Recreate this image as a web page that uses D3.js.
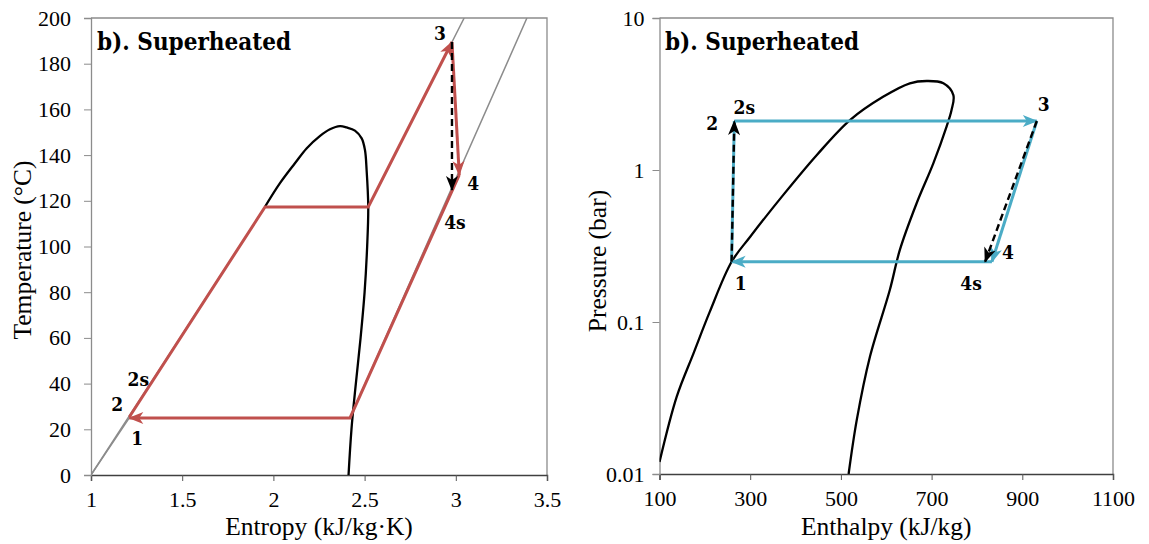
<!DOCTYPE html>
<html>
<head>
<meta charset="utf-8">
<script src="https://cdn.jsdelivr.net/npm/d3@7"></script>
<style>
  html, body { margin: 0; padding: 0; background: #fff; }
  svg { display: block; }
  .tick text { font-family: "Liberation Serif", "Times New Roman", serif; font-size: 22px; fill: #000; }
  .axis-title { font-family: "Liberation Serif", "Times New Roman", serif; font-size: 25.5px; fill: #000; }
  .panel-title { font-family: "DejaVu Serif", serif; font-stretch: condensed; font-weight: bold; font-size: 25px; fill: #000; }
  .pt-label { font-family: "DejaVu Serif", serif; font-stretch: condensed; font-weight: bold; font-size: 19px; fill: #000; }
</style>
</head>
<body>
<svg id="chart" width="1149" height="544"></svg>
<script>
// ---------- T-s diagram data (entropy kJ/kg·K, temperature °C) ----------
const tsDome = [
  [1.954, 117.4], [2.036, 127.7], [2.118, 136.4], [2.183, 143.0], [2.256, 148.4],
  [2.310, 151.3], [2.365, 152.7], [2.402, 152.1], [2.447, 150.7], [2.484, 147.3],
  [2.502, 142.2], [2.511, 133.5], [2.520, 117.4], [2.514, 100.0], [2.500, 80.0],
  [2.478, 60.0], [2.452, 40.0], [2.428, 20.0], [2.412, 0]
];
const tsHighIsobar = [[1.0, 0], [1.954, 117.3], [2.520, 117.3], [3.046, 200]];
const tsLowIsobar  = [[1.0, 0], [1.21, 25], [2.42, 25], [3.39, 200]];
// cycle states
const tsState = {
  s1: [1.21, 25], s2: [1.21, 25.4], satL: [1.954, 117.3], satV: [2.520, 117.3],
  s3: [2.979, 189.5], s4: [3.019, 131.3], s4s: [2.979, 124.7], lowSatV: [2.42, 25]
};
const tsXTicks = [1, 1.5, 2, 2.5, 3, 3.5];
const tsYTicks = [0, 20, 40, 60, 80, 100, 120, 140, 160, 180, 200];

// ---------- P-h diagram data (enthalpy kJ/kg, pressure bar) ----------
const phDome = [
  [100, 0.0120], [138, 0.0323], [175, 0.0622], [211, 0.117], [259, 0.249],
  [300, 0.364], [373, 0.686], [447, 1.256], [520, 2.13], [593, 3.03],
  [652, 3.72], [689, 3.85], [726, 3.72], [748, 3.11], [744, 2.48], [733, 1.93],
  [704, 1.11], [667, 0.604], [630, 0.298], [608, 0.163], [564, 0.0591],
  [535, 0.0227], [517, 0.0100]
];
const phState = {
  p1: [259, 0.249], p2: [265, 2.10], p2s: [265, 2.10], p3: [932, 2.10],
  p4: [833, 0.249], p4s: [818, 0.249]
};
const phXTicks = [100, 300, 500, 700, 900, 1100];
const phYTicks = [0.01, 0.1, 1, 10];

const svg = d3.select("#chart");
const RED = "#C0504D", BLUE = "#4BACC6", GREY = "#8c8c8c";

// arrowhead markers
const defs = svg.append("defs");
function marker(id, color) {
  defs.append("marker")
    .attr("id", id).attr("markerUnits", "userSpaceOnUse")
    .attr("viewBox", "-15 -7 17 14").attr("refX", 0).attr("refY", 0)
    .attr("markerWidth", 17).attr("markerHeight", 14).attr("orient", "auto")
    .append("path").attr("d", "M1,0 L-14,-6 L-10,0 L-14,6 Z").attr("fill", color);
}
marker("arR", RED); marker("arB", BLUE); marker("arK", "#000");

function panel(opts) {
  const { x, y, xTicks, yTicks, xFmt, yFmt, xTitle, yTitle, yTitleX, yTitleY, yPad } = opts;
  const g = svg.append("g");
  const [x0, x1] = x.range(), [y0, y1] = y.range();
  // frame (top/right)
  g.append("path").attr("d", `M${x0},${y1} H${x1} V${y0}`)
    .attr("fill", "none").attr("stroke", GREY).attr("stroke-width", 1.3);
  const ax = g.append("g").attr("transform", `translate(0,${y0})`)
    .call(d3.axisBottom(x).tickValues(xTicks).tickFormat(xFmt).tickSize(6).tickPadding(10));
  ax.select(".domain").attr("stroke", "#404040").attr("stroke-width", 1.5);
  ax.selectAll(".tick line").attr("stroke", "#555");
  const ay = g.append("g").attr("transform", `translate(${x0},0)`)
    .call(d3.axisLeft(y).tickValues(yTicks).tickFormat(yFmt).tickSize(7).tickPadding(yPad));
  ay.select(".domain").attr("stroke", GREY).attr("stroke-width", 1.3);
  ay.selectAll(".tick line").attr("stroke", GREY);
  g.append("text").attr("class", "axis-title")
    .attr("x", (x0 + x1) / 2).attr("y", 535).attr("text-anchor", "middle").text(xTitle);
  g.append("text").attr("class", "axis-title")
    .attr("transform", `translate(${yTitleX},${yTitleY}) rotate(-90)`)
    .attr("text-anchor", "middle").text(yTitle);
  return g;
}

// ================= T-s panel =================
const xL = d3.scaleLinear([1, 3.5], [91, 547]);
const yL = d3.scaleLinear([0, 200], [475, 18]);
const gL = panel({ x: xL, y: yL, xTicks: tsXTicks, yTicks: tsYTicks,
  xFmt: d3.format("~g"), yFmt: d3.format("d"),
  xTitle: "Entropy (kJ/kg·K)", yTitle: "Temperature (°C)", yTitleX: 31, yTitleY: 250, yPad: 13 });
const lineL = d3.line().x(d => xL(d[0])).y(d => yL(d[1]));
svg.append("clipPath").attr("id", "clipL")
  .append("rect").attr("x", 91).attr("y", 18).attr("width", 456).attr("height", 457);
const plotL = gL.append("g").attr("clip-path", "url(#clipL)");

plotL.append("path").datum(tsHighIsobar).attr("d", lineL)
  .attr("fill", "none").attr("stroke", GREY).attr("stroke-width", 1.5);
plotL.append("path").datum(tsLowIsobar).attr("d", lineL)
  .attr("fill", "none").attr("stroke", GREY).attr("stroke-width", 1.5);
plotL.append("path").datum(tsDome)
  .attr("d", d3.line().x(d => xL(d[0])).y(d => yL(d[1])).curve(d3.curveCatmullRom.alpha(0.5)))
  .attr("fill", "none").attr("stroke", "#000").attr("stroke-width", 2.3);

const S = tsState;
const redPaths = [
  [S.s2, S.satL, S.satV, S.s3],
  [S.s3, S.s4],
  [S.s4, S.lowSatV, S.s1]
];
redPaths.forEach(p => {
  gL.append("path").datum(p).attr("d", lineL)
    .attr("fill", "none").attr("stroke", RED).attr("stroke-width", 3)
    .attr("stroke-linejoin", "miter").attr("marker-end", "url(#arR)");
});
gL.append("path").datum([S.s3, S.s4s]).attr("d", lineL)
  .attr("fill", "none").attr("stroke", "#000").attr("stroke-width", 2.4)
  .attr("stroke-dasharray", "7,4").attr("marker-end", "url(#arK)");

const tsLabels = [
  { t: "2s", p: S.s1, dx: 9, dy: -39 },
  { t: "2", p: S.s1, dx: -12, dy: -14 },
  { t: "1", p: S.s1, dx: 8, dy: 20 },
  { t: "3", p: S.s3, dx: -12, dy: -9 },
  { t: "4", p: S.s4, dx: 14, dy: 8 },
  { t: "4s", p: S.s4s, dx: 3, dy: 32 }
];
tsLabels.forEach(l => {
  gL.append("text").attr("class", "pt-label")
    .attr("x", xL(l.p[0]) + l.dx).attr("y", yL(l.p[1]) + l.dy)
    .attr("text-anchor", "middle").attr("dominant-baseline", "central").text(l.t);
});
gL.append("text").attr("class", "panel-title").attr("x", 97).attr("y", 50)
  .attr("textLength", 194).attr("lengthAdjust", "spacingAndGlyphs").text("b). Superheated");

// ================= P-h panel =================
const xR = d3.scaleLinear([100, 1100], [659.5, 1113]);
const yR = d3.scaleLog([0.01, 10], [474, 18]);
const gR = panel({ x: xR, y: yR, xTicks: phXTicks, yTicks: phYTicks,
  xFmt: d3.format("d"), yFmt: d => String(d),
  xTitle: "Enthalpy (kJ/kg)", yTitle: "Pressure (bar)", yTitleX: 606, yTitleY: 261, yPad: 8 });
const lineR = d3.line().x(d => xR(d[0])).y(d => yR(d[1]));
svg.append("clipPath").attr("id", "clipR")
  .append("rect").attr("x", 659.5).attr("y", 18).attr("width", 453.5).attr("height", 456);
const plotR = gR.append("g").attr("clip-path", "url(#clipR)");
plotR.append("path").datum(phDome)
  .attr("d", d3.line().x(d => xR(d[0])).y(d => yR(d[1])).curve(d3.curveCatmullRom.alpha(0.5)))
  .attr("fill", "none").attr("stroke", "#000").attr("stroke-width", 2.3);

const P = phState;
const bluePaths = [[P.p1, P.p2], [P.p2, P.p3], [P.p3, P.p4], [P.p4, P.p1]];
bluePaths.forEach((p, i) => {
  gR.append("path").datum(p).attr("d", lineR)
    .attr("fill", "none").attr("stroke", BLUE).attr("stroke-width", 3)
    .attr("marker-end", i === 0 ? null : "url(#arB)");
});
[[P.p1, P.p2s], [P.p3, P.p4s]].forEach(p => {
  gR.append("path").datum(p).attr("d", lineR)
    .attr("fill", "none").attr("stroke", "#000").attr("stroke-width", 2.4)
    .attr("stroke-dasharray", "7,4").attr("marker-end", "url(#arK)");
});
const phLabels = [
  { t: "2s", p: P.p2, dx: 10, dy: -14 },
  { t: "2", p: P.p2, dx: -22, dy: 2 },
  { t: "1", p: P.p1, dx: 9, dy: 21 },
  { t: "3", p: P.p3, dx: 7, dy: -17 },
  { t: "4", p: P.p4, dx: 16, dy: -10 },
  { t: "4s", p: P.p4s, dx: -14, dy: 21 }
];
phLabels.forEach(l => {
  gR.append("text").attr("class", "pt-label")
    .attr("x", xR(l.p[0]) + l.dx).attr("y", yR(l.p[1]) + l.dy)
    .attr("text-anchor", "middle").attr("dominant-baseline", "central").text(l.t);
});
gR.append("text").attr("class", "panel-title").attr("x", 665).attr("y", 50)
  .attr("textLength", 194).attr("lengthAdjust", "spacingAndGlyphs").text("b). Superheated");
</script>
</body>
</html>
